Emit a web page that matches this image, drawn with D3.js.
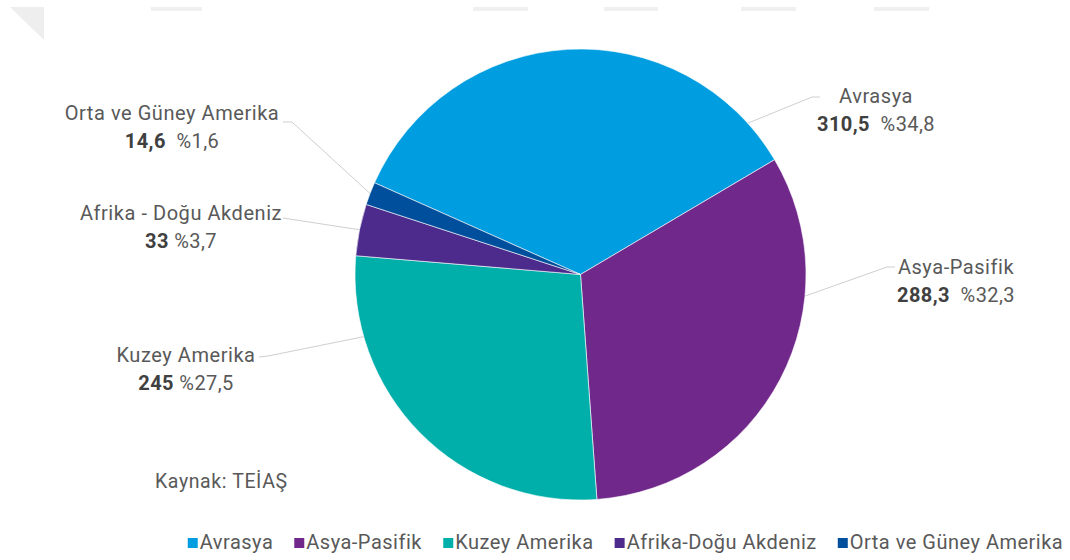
<!DOCTYPE html>
<html>
<head>
<meta charset="utf-8">
<script src="https://cdn.jsdelivr.net/npm/d3@7"></script>
<style>
  body { margin: 0; background: #fff; }
  svg { display: block; font-family: Roboto, "Liberation Sans", sans-serif; }
</style>
</head>
<body>
<svg id="chart" width="1070" height="560"></svg>
<script>
// data
var regions = ["Avrasya", "Asya-Pasifik", "Kuzey Amerika", "Afrika-Doğu Akdeniz", "Orta ve Güney Amerika"];
var labelNames = ["Avrasya", "Asya-Pasifik", "Kuzey Amerika", "Afrika - Doğu Akdeniz", "Orta ve Güney Amerika"];
var values = [310.5, 288.3, 245, 33, 14.6];
var colors = ["#009ee0", "#70288b", "#00aeaa", "#4c2b8c", "#004f9c"];
var source = "Kaynak: TEİAŞ";

// label layout: text centre / name baseline, leader elbow, where on the slice the leader starts
var labelPos = [[876, 103], [956, 274], [186, 362], [181, 220], [172, 120]];
var elbows = [[812, 97], [887, 267], [268, 356], [283, 218], [292, 122]];
var lineEnds = [[820, 97], [895, 267], [259, 357], [283, 218], [283, 122]];
var leaderAt = [0.908, 0.31, 0.79, 0.5, 0.5];

var svg = d3.select("#chart");
var cx = 580.5, cy = 274.5, r = 225.5;

// faint scan leftovers along the top edge
svg.append("path").attr("d", "M10,7L44,7L44,40Z").attr("fill", "#eeeeee");
[[151, 202], [473, 528], [604, 658], [741, 796], [874, 929]].forEach(function (b) {
  svg.append("rect").attr("x", b[0]).attr("y", 7).attr("width", b[1] - b[0]).attr("height", 4).attr("fill", "#f0f0f0");
});

var total = d3.sum(values);
var comma = function (v) { return String(v).replace(".", ","); };
var pctFmt = d3.format(".1f");

var pie = d3.pie().sort(null).startAngle(-66 * Math.PI / 180).endAngle(294 * Math.PI / 180);
var arcs = pie(values);
var arc = d3.arc().innerRadius(0).outerRadius(r);

var g = svg.append("g").attr("transform", "translate(" + cx + "," + cy + ")");
g.selectAll("path.slice")
  .data(arcs)
  .enter().append("path")
  .attr("class", "slice")
  .attr("d", arc)
  .attr("fill", function (d, i) { return colors[i]; })
  .attr("stroke", "#ffffff")
  .attr("stroke-width", 0.6);

// leader lines
arcs.forEach(function (d, i) {
  var a = d.startAngle + (d.endAngle - d.startAngle) * leaderAt[i];
  var sx = cx + r * Math.sin(a), sy = cy - r * Math.cos(a);
  svg.append("polyline")
    .attr("points", [[sx, sy], elbows[i], lineEnds[i]].map(function (p) { return p.join(","); }).join(" "))
    .attr("fill", "none")
    .attr("stroke", "#cfcfcf")
    .attr("stroke-width", 1);
});

// labels
arcs.forEach(function (d, i) {
  var t = svg.append("text")
    .attr("x", labelPos[i][0]).attr("y", labelPos[i][1])
    .attr("text-anchor", "middle")
    .attr("font-size", 20)
    .attr("letter-spacing", 0.55)
    .attr("fill", "#595959")
    .text(labelNames[i]);
  var v = svg.append("text")
    .attr("x", labelPos[i][0]).attr("y", labelPos[i][1] + 28)
    .attr("text-anchor", "middle")
    .attr("font-size", 20)
    .attr("letter-spacing", 0.4);
  v.append("tspan").attr("font-weight", "bold").attr("fill", "#404040").text(comma(d.data));
  v.append("tspan").attr("fill", "#595959").text((i < 2 || i == 4 ? "\u00a0\u00a0" : " ") + "%" + comma(pctFmt(d.data / total * 100)));
});

svg.append("text")
  .attr("x", 155).attr("y", 488)
  .attr("font-size", 19.5)
  .attr("letter-spacing", 0.6)
  .attr("fill", "#595959")
  .text(source);

// legend
var legend = svg.append("g");
var items = legend.selectAll("g.item").data(regions).enter().append("g").attr("class", "item");
items.append("rect").attr("width", 10).attr("height", 10).attr("y", -11)
  .attr("fill", function (d, i) { return colors[i]; });
items.append("text").attr("x", 12).attr("y", 0)
  .attr("font-size", 20).attr("letter-spacing", 0.5).attr("fill", "#595959")
  .text(function (d) { return d; });

var widths = [];
items.each(function () { widths.push(this.getBBox().width); });
var gap = 21;
var legendW = d3.sum(widths) + gap * (widths.length - 1);
var x = (186 + 1065) / 2 - legendW / 2;
items.attr("transform", function (d, i) {
  var tx = x; x += widths[i] + gap;
  return "translate(" + tx + ",549)";
});
</script>
</body>
</html>
